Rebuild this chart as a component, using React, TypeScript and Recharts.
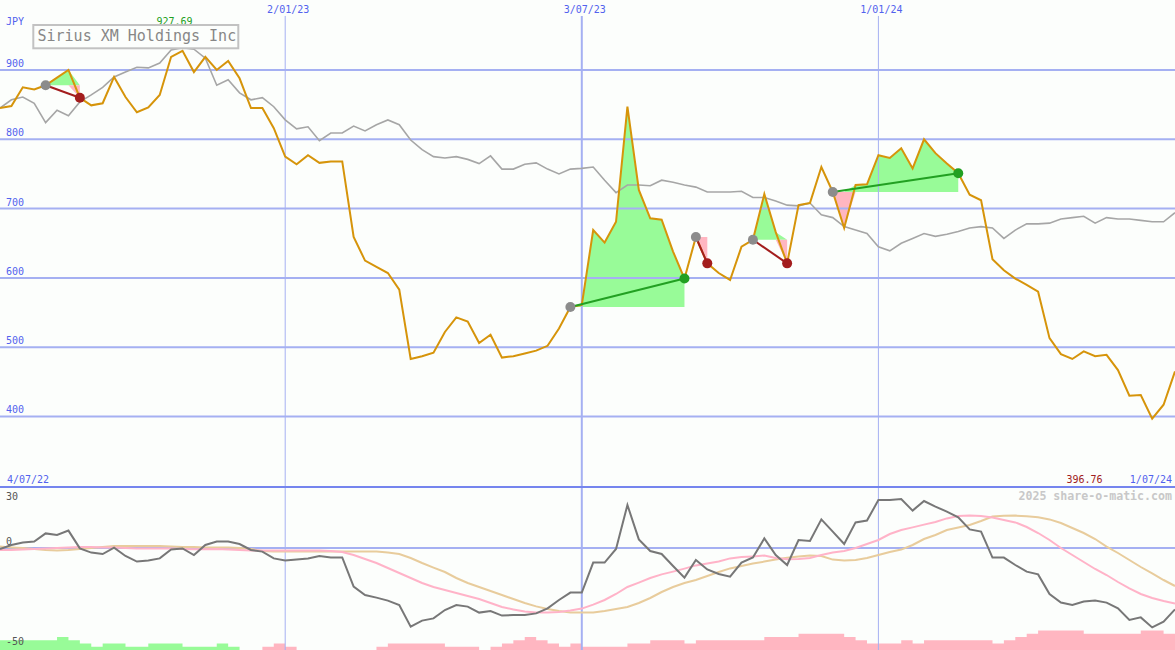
import React from 'react';
import { ComposedChart, Line, Area, XAxis, YAxis, ReferenceLine, ReferenceDot } from 'recharts';

// ---------- data (weekly closes, 11/07/22 .. 1/07/24) ----------
const price = [
  845, 848, 875, 872, 878, 889, 900, 860, 849, 852,
  890, 861, 839, 846, 864, 919, 927.69, 897, 919, 900,
  913, 888, 845, 845, 816, 775, 764, 777, 766, 768,
  768, 659, 625, 616, 607, 583, 483, 487, 492, 522,
  543, 537, 506, 518, 485, 487, 491, 495, 502, 527,
  558, 561, 669, 651, 681, 847, 727, 686, 684, 638,
  599, 659, 621, 607, 597, 645, 655, 721, 666, 621,
  705, 708, 760, 724, 672, 734, 735, 777, 773, 787,
  758, 800, 780, 765, 751, 720, 712, 627, 611, 599,
  590, 580, 513, 490, 483, 494, 487, 489, 467, 430,
  431, 396.76, 417, 465,
];

const compare = [
  845, 857, 861, 852, 824, 842, 834, 854, 864, 875,
  890, 897, 904, 903, 910, 929, 932, 930, 917, 878,
  886, 867, 857, 860, 847, 828, 815, 818, 798, 809,
  809, 819, 812, 821, 828, 821, 799, 785, 775, 773,
  775, 771, 765, 776, 757, 757, 764, 766, 757, 750,
  757, 758, 760, 741, 723, 734, 734, 733, 741, 738,
  734, 731, 724, 724, 724, 725, 716, 716, 711, 705,
  704, 708, 691, 687, 674, 669, 664, 645, 639, 650,
  657, 664, 660, 663, 667, 672, 674, 672, 657, 669,
  678, 678, 679, 685, 687, 689, 679, 687, 685, 685,
  683, 681, 681, 694,
];

const momentum = [
  -0.5, 1.5, 2.7, 3.2, 7.3, 6.5, 8.7, -0.2, -2.3, -3,
  0.2, -4, -6.8, -6.3, -5.2, -0.7, -0.2, -3.5, 1.5, 3.2,
  3.2, 2, -1, -1.8, -5.2, -6.3, -5.7, -5.2, -4, -4.7,
  -4.7, -19.3, -23.5, -24.8, -26.3, -28.5, -39.3, -36.3, -35.2, -31,
  -28.5, -29.3, -32.3, -31.5, -33.8, -33.5, -33.5, -32.7, -30.2, -26,
  -22.3, -22.3, -7.3, -7.3, -0.5, 21.5, 4.3, -1.5, -3, -9,
  -14.8, -6, -10.7, -13, -14.3, -7.3, -4.7, 4.8, -3.5, -8.5,
  4, 3.5, 14.3, 8.2, 2, 12.8, 13.7, 24, 24, 24.5,
  18.7, 23.5, 20.7, 18.2, 15.3, 9.3, 8.2, -4.8, -4.8, -8.5,
  -11.8, -13.2, -23, -27.3, -28.5, -26.8, -26.3, -27.3, -30.2, -36,
  -34.7, -39.7, -36.8, -30.7,
];

const fastAvg = [
  -1, -1, -0.8, -0.5, -0.3, 0, 0.3, 0.5, 0.5, 0.3,
  0.2, 0, -0.2, -0.3, -0.3, -0.3, -0.5, -0.6, -0.6, -0.5,
  -0.8, -1, -1.2, -1.3, -1.3, -1.3, -1.3, -1.3, -1.3, -1.5,
  -2, -3.5, -5.5, -7.5, -10, -12.5, -15, -17.5, -19.5, -21,
  -22.5, -24, -25.5, -27.5, -29.5, -30.7, -31.8, -32.3, -32.3, -32,
  -31.3, -30.3, -28.3, -26, -23, -19.5, -17.3, -15, -13.2, -11.8,
  -10.3, -8.7, -7.7, -6.7, -5.2, -4.5, -4.2, -3.8, -5, -5.6,
  -5.5, -5, -3.5, -2.3, -1.5, 0, 2, 4, 7, 9,
  10.3, 11.7, 13, 14.8, 16, 16.2, 16, 15.2, 14, 12.8,
  10.5, 7.5, 4, 0, -3.5, -7, -10.5, -13.5, -17, -20.2,
  -23, -25, -26.5, -27.7,
];

const slowAvg = [
  0.7, 0.3, 0, -0.5, -1, -1.3, -1, -0.5, 0, 0.5,
  1, 1, 1, 1, 1, 0.7, 0.5, 0.5, 0.3, 0.3,
  0.3, 0, -0.5, -1.5, -1.8, -1.8, -1.8, -1.8, -1.8, -1.8,
  -1.8, -1.8, -1.8, -1.8, -2.3, -3, -5, -7.5, -9.8, -12,
  -15, -17.5, -19.5, -21.5, -23.5, -25.5, -27.5, -29.2, -30.5, -31.5,
  -32.2, -32.3, -32.3, -31.5, -30.5, -29.5, -27.5, -25, -22, -19.5,
  -17.5, -16, -14, -12, -10.2, -9, -7.8, -6.8, -5.8, -4.9,
  -4.3, -3.8, -4, -5.8, -6.2, -6, -5, -3.5, -2, -0.8,
  1.5, 4.5, 6.5, 9, 10.2, 11.5, 13.5, 15.7, 16.1, 16.2,
  15.9, 15.4, 14.3, 12.5, 10, 7.5, 4.5, 0.7, -2.5, -6,
  -9.5, -12.7, -16, -19,
];

// signal strength bars: positive = green, negative = pink
const signalBars = [
  3, 3, 3, 3, 3, 4, 3, 2, 1, 2,
  2, 1, 1, 2, 2, 2, 1, 1, 1, 2,
  1, 0, 0, -1, -2, -1, 0, 0, 0, 0,
  0, 0, 0, -1, -2, -2, -2, -2, -2, -1,
  -1, -1, 0, -1, -2, -3, -4, -3, -2, -1,
  -2, -1, -1, -1, -1, -2, -2, -3, -3, -3,
  -2, -3, -3, -3, -3, -3, -3, -4, -4, -4,
  -5, -5, -5, -5, -4, -3, -2, -2, -2, -3,
  -2, -3, -3, -3, -3, -3, -3, -2, -3, -4,
  -5, -6, -6, -6, -6, -5, -5, -5, -5, -5,
  -6, -6, -5, -5,
];

const trades = [
  { buy: 4, sell: 7 },
  { buy: 50, sell: 60 },
  { buy: 61, sell: 62 },
  { buy: 66, sell: 69 },
  { buy: 73, sell: 84 },
];

const dateTicks = [
  { i: 25, label: '2/01/23' },
  { i: 51, label: '3/07/23' },
  { i: 77, label: '1/01/24' },
];
const dateLineWidths = [1, 2, 1];
const priceTicks = [400, 500, 600, 700, 800, 900];
const momentumTicks = [30, 0, -50];
const startLabel = '4/07/22';
const endLabel = '1/07/24';
const currency = 'JPY';
const title = 'Sirius XM Holdings Inc';
const credit = '2025 share-o-matic.com';

// ---------- styles ----------
const W = 1175;
const TOP_H = 486;
const BOT_H = 164;
const MONO = "'DejaVu Sans Mono', 'Liberation Mono', monospace";
const BG = '#fcfefc';
const BLUE = '#5262ee';
const GRID = '#a5b0f2';
const BORDER = '#7585ee';
const ORANGE = '#d6940a';
const GAIN = '#98fb98';
const LOSS = '#ffb6c1';
const WIN = '#22a022';
const LOSE = '#a31d1d';
const ENTRY = '#8c8c8c';

// ---------- derived tables ----------
const topData = price.map((p, i) => {
  const row: any = { i, price: p, compare: compare[i] };
  trades.forEach((t, k) => {
    const entry = price[t.buy];
    const inTrade = i >= t.buy && i <= t.sell;
    row['gain' + k] = inTrade ? [entry, Math.max(p, entry)] : null;
    row['loss' + k] = inTrade ? [Math.min(p, entry), entry] : null;
    row['trade' + k] = i === t.buy || i === t.sell ? p : null;
  });
  return row;
});

const bottomData = momentum.map((m, i) => ({
  i,
  momentum: m,
  fast: fastAvg[i],
  slow: slowAvg[i],
  up: Math.max(signalBars[i], 0),
  down: Math.max(-signalBars[i], 0),
}));

const maxVal = Math.max(...price);
const maxIdx = price.indexOf(maxVal);
const minVal = Math.min(...price);

const priceLabel = (v: number) => (props: any) => {
  const vb = props.viewBox || { y: 0 };
  return (
    <text x={6} y={vb.y - 3} fill={BLUE} fontSize={10} fontFamily={MONO}>
      {v}
    </text>
  );
};

const momLabel = (v: number) => (props: any) => {
  const vb = props.viewBox || { y: 0 };
  const y = v === 30 ? vb.y + 11.5 : vb.y - 3;
  return (
    <text x={6} y={y} fill="#555555" fontSize={10} fontFamily={MONO}>
      {v}
    </text>
  );
};

const dateLabel = (label: string) => (props: any) => {
  const vb = props.viewBox || { x: 0 };
  return (
    <text x={vb.x + 3} y={12.5} fill={BLUE} fontSize={10} fontFamily={MONO} textAnchor="middle">
      {label}
    </text>
  );
};

const maxLabel = (props: any) => {
  const vb = props.viewBox || { x: 0, width: 0 };
  return (
    <text x={vb.x + (vb.width || 0) / 2 - 8} y={25} fill={WIN} fontSize={10} fontFamily={MONO} textAnchor="middle">
      {maxVal.toFixed(2)}
    </text>
  );
};

const tradeDot = (k: number) => (props: any) => {
  const t = trades[k];
  const { cx, cy, payload } = props;
  if (cy == null || cx == null || payload == null || payload['trade' + k] == null) {
    return <g key={`d${k}-${props.index}`} />;
  }
  const win = price[t.sell] > price[t.buy];
  const fill = payload.i === t.buy ? ENTRY : win ? WIN : LOSE;
  return <circle key={`d${k}-${props.index}`} cx={cx} cy={cy} r={5} fill={fill} />;
};

export default function App() {
  return (
    <div style={{ position: 'absolute', left: 0, top: 0, width: W, height: 650, background: BG, overflow: 'hidden' }}>
      <div style={{ position: 'absolute', left: 0, top: 0 }}>
        <ComposedChart width={W} height={TOP_H} data={topData} margin={{ top: 0, right: 0, bottom: 0, left: 0 }}>
          <XAxis dataKey="i" type="number" domain={[0, 103]} hide allowDataOverflow />
          <YAxis domain={[299.7, 1001]} allowDataOverflow hide />
          {priceTicks.map((v) => (
            <ReferenceLine key={'p' + v} y={v} stroke={GRID} strokeWidth={2} label={priceLabel(v)} />
          ))}
          {dateTicks.map((t, k) => (
            <ReferenceLine
              key={t.label}
              segment={[{ x: t.i, y: 978 }, { x: t.i, y: 299.7 }]}
              stroke={GRID}
              strokeWidth={dateLineWidths[k]}
              label={dateLabel(t.label)}
            />
          ))}
          {trades.map((t, k) => (
            <Area
              key={'g' + k}
              dataKey={'gain' + k}
              type="linear"
              stroke="none"
              fill={GAIN}
              fillOpacity={1}
              isAnimationActive={false}
              dot={false}
              activeDot={false}
            />
          ))}
          {trades.map((t, k) => (
            <Area
              key={'l' + k}
              dataKey={'loss' + k}
              type="linear"
              stroke="none"
              fill={LOSS}
              fillOpacity={1}
              isAnimationActive={false}
              dot={false}
              activeDot={false}
            />
          ))}
          <Line dataKey="compare" type="linear" stroke="#a6a6a6" strokeWidth={1.6} dot={false} activeDot={false} isAnimationActive={false} />
          <Line dataKey="price" type="linear" stroke={ORANGE} strokeWidth={2} dot={false} activeDot={false} isAnimationActive={false} />
          {trades.map((t, k) => (
            <Line
              key={'t' + k}
              dataKey={'trade' + k}
              type="linear"
              connectNulls
              stroke={price[t.sell] > price[t.buy] ? WIN : LOSE}
              strokeWidth={2}
              dot={tradeDot(k)}
              activeDot={false}
              isAnimationActive={false}
            />
          ))}
          <ReferenceDot x={maxIdx} y={maxVal} r={0} fill="none" stroke="none" label={maxLabel} />
        </ComposedChart>
      </div>
      <div style={{ position: 'absolute', left: 0, top: TOP_H }}>
        <ComposedChart width={W} height={BOT_H} data={bottomData} margin={{ top: 0, right: 0, bottom: 0, left: 0 }}>
          <XAxis dataKey="i" type="number" domain={[0, 103]} hide allowDataOverflow />
          <YAxis domain={[-51, 31]} allowDataOverflow hide />
          <YAxis yAxisId="bars" domain={[0, 50.6]} hide allowDataOverflow />
          <Area yAxisId="bars" dataKey="up" type="stepAfter" stroke="none" fill={GAIN} fillOpacity={1} isAnimationActive={false} dot={false} activeDot={false} />
          <Area yAxisId="bars" dataKey="down" type="stepAfter" stroke="none" fill={LOSS} fillOpacity={1} isAnimationActive={false} dot={false} activeDot={false} />
          {dateTicks.map((t, k) => (
            <ReferenceLine key={t.label} x={t.i} stroke={GRID} strokeWidth={dateLineWidths[k]} />
          ))}
          <ReferenceLine y={0} stroke={GRID} strokeWidth={2} />
          <ReferenceLine y={30.5} stroke={BORDER} strokeWidth={2} />
          <Line dataKey="slow" type="linear" stroke="#e8cc9c" strokeWidth={2} dot={false} activeDot={false} isAnimationActive={false} />
          <Line dataKey="fast" type="linear" stroke="#ffb3c8" strokeWidth={2} dot={false} activeDot={false} isAnimationActive={false} />
          <Line dataKey="momentum" type="linear" stroke="#777777" strokeWidth={2} dot={false} activeDot={false} isAnimationActive={false} />
          {momentumTicks.map((v) => (
            <ReferenceLine key={'m' + v} y={v} stroke="none" strokeOpacity={0} label={momLabel(v)} />
          ))}
        </ComposedChart>
      </div>
      <svg width={W} height={650} style={{ position: 'absolute', left: 0, top: 0, pointerEvents: 'none' }}>
        <text x={6} y={25} fill={BLUE} fontSize={10} fontFamily={MONO}>{currency}</text>
        <rect x={33.3} y={25} width={205} height={23.3} fill={BG} stroke="#c2c2c2" strokeWidth={2} />
        <text x={37.5} y={41} fill="#878787" fontSize={15} fontFamily={MONO}>{title}</text>
        <text x={7} y={483} fill={BLUE} fontSize={10} fontFamily={MONO}>{startLabel}</text>
        <text x={1102.5} y={483} fill="#a02020" fontSize={10} fontFamily={MONO} textAnchor="end">{minVal.toFixed(2)}</text>
        <text x={1172} y={483} fill={BLUE} fontSize={10} fontFamily={MONO} textAnchor="end">{endLabel}</text>
        <text x={1172} y={500} fill="#c8c8c8" fontSize={11.6} fontWeight="bold" fontFamily={MONO} textAnchor="end">{credit}</text>
      </svg>
    </div>
  );
}
